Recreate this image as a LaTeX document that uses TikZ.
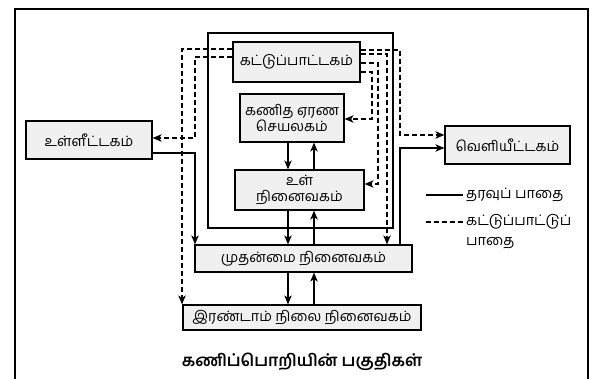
\documentclass[tikz,border=0pt]{standalone}
\usepackage{fontspec}
\newfontfamily\tamil[Script=Tamil]{Hind Madurai}
\usetikzlibrary{arrows.meta}
\begin{document}
\begin{tikzpicture}[x=1pt,y=-1pt,
  box/.style={draw, line width=1.2pt, fill=gray!12, inner sep=0pt, align=center,
     font=\tamil\fontsize{14.3}{16}\selectfont},
  data/.style={line width=1.3pt, -{Stealth[length=9pt,width=7.5pt,inset=2.5pt]}},
  ctrl/.style={line width=1.3pt, dash pattern=on 5pt off 3pt, -{Stealth[length=9pt,width=7.5pt,inset=2.5pt]}},
  lbl/.style={anchor=west, inner sep=0pt, font=\tamil\fontsize{14.5}{16}\selectfont}]
\useasboundingbox (0,0) rectangle (590,379);
% outer frame
\coordinate (f1) at (15,379); \coordinate (f2) at (15,9);
\coordinate (f3) at (588,9); \coordinate (f4) at (588,379);
\draw[line width=2pt] (f1) -- (f2) -- (f3) -- (f4);
% CPU rectangle
\coordinate (cpu1) at (208,33); \coordinate (cpu2) at (393,228);
\draw[line width=1.4pt] (cpu1) rectangle (cpu2);
% boxes
\node[box, minimum width=127pt, minimum height=40pt] (cu) at (296.5,62) {கட்டுப்பாட்டகம்};
\node[box, minimum width=104pt, minimum height=48pt] (alu) at (292,118) {கணித ஏரண\\செயலகம்};
\node[box, minimum width=129pt, minimum height=40pt] (im) at (299.5,190) {உள்\\நினைவகம்};
\node[box, minimum width=217pt, minimum height=27pt] (pm) at (303.5,258.5) {முதன்மை நினைவகம்};
\node[box, minimum width=238pt, minimum height=25pt] (sm) at (302,317.5) {இரண்டாம் நிலை நினைவகம்};
\node[box, minimum width=126pt, minimum height=38pt] (inp) at (89,140) {உள்ளீட்டகம்};
\node[box, minimum width=125pt, minimum height=38pt] (out) at (507.5,145) {வெளியீட்டகம்};
% helper coordinates
\coordinate (xa) at (182,0); \coordinate (xb) at (195,0);
\coordinate (xd) at (288,0); \coordinate (xu) at (314,0);
\coordinate (xf) at (372,0); \coordinate (xe) at (378,0);
\coordinate (xg) at (387,0); \coordinate (xc) at (400,0);
\coordinate (ya) at (0,49); \coordinate (yb) at (0,57);
\coordinate (yc) at (0,50); \coordinate (yd) at (0,54);
\coordinate (ye) at (0,63); \coordinate (yf) at (0,72);
\coordinate (yin) at (0,153); \coordinate (yinc) at (0,138);
\coordinate (yalu) at (0,119); \coordinate (yim) at (0,184);
\coordinate (yo1) at (0,135); \coordinate (yo2) at (0,148);
% data paths
\draw[data] (inp.east |- yin) -| (pm.north -| xb);
\draw[data] (alu.south -| xd) -- (im.north -| xd);
\draw[data] (im.north -| xu) -- (alu.south -| xu);
\draw[data] (im.south -| xd) -- (pm.north -| xd);
\draw[data] (pm.north -| xu) -- (im.south -| xu);
\draw[data] (pm.south -| xd) -- (sm.north -| xd);
\draw[data] (sm.north -| xu) -- (pm.south -| xu);
\draw[data] (pm.north -| xc) |- (out.west |- yo2);
% control paths
\draw[ctrl] (cu.west |- ya) -| (sm.north -| xa);
\draw[ctrl] (cu.west |- yb) -| (xb |- yinc) -- (inp.east |- yinc);
\draw[ctrl] (cu.east |- yc) -| (xc |- yo1) -- (out.west |- yo1);
\draw[ctrl] (cu.east |- yd) -| (pm.north -| xg);
\draw[ctrl] (cu.east |- ye) -| (xe |- yim) -- (im.east |- yim);
\draw[ctrl] (cu.east |- yf) -| (xf |- yalu) -- (alu.east |- yalu);
% legend
\coordinate (l1a) at (426,195); \coordinate (l1b) at (463,195);
\coordinate (l2a) at (426,222); \coordinate (l2b) at (463,222);
\draw[line width=1.3pt] (l1a) -- (l1b);
\draw[line width=1.3pt, dash pattern=on 5pt off 3pt] (l2a) -- (l2b);
\node[lbl] (t1) at (466,195) {தரவுப் பாதை};
\node[lbl] (t2) at (466,222) {கட்டுப்பாட்டுப்};
\node[lbl] (t3) at (466,243) {பாதை};
% title
\node[font=\tamil\bfseries\fontsize{16.5}{18}\selectfont] (title) at (302,362) {கணிப்பொறியின் பகுதிகள்};
\end{tikzpicture}
\end{document}
